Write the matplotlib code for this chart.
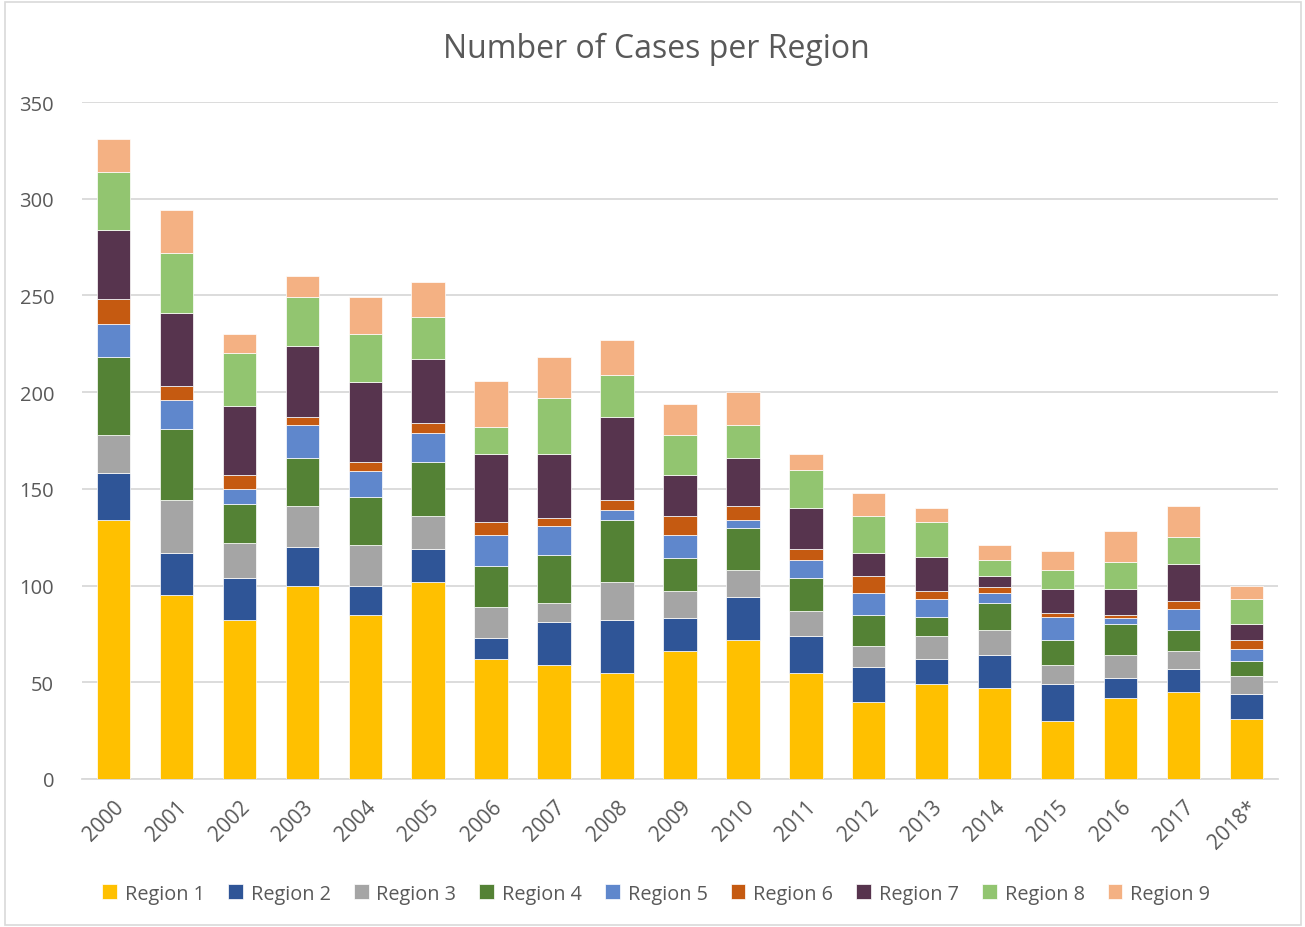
import matplotlib.pyplot as plt
import numpy as np
from matplotlib.patches import Rectangle

# Years on the x axis
years = ['2000', '2001', '2002', '2003', '2004', '2005', '2006', '2007', '2008', '2009',
         '2010', '2011', '2012', '2013', '2014', '2015', '2016', '2017', '2018*']

# Cases per region, one list per region
region1 = [134, 95, 82, 100, 85, 102, 62, 59, 55, 66, 72, 55, 40, 49, 47, 30, 42, 45, 31]
region2 = [24, 22, 22, 20, 15, 17, 11, 22, 27, 17, 22, 19, 18, 13, 17, 19, 10, 12, 13]
region3 = [20, 27, 18, 21, 21, 17, 16, 10, 20, 14, 14, 13, 11, 12, 13, 10, 12, 9, 9]
region4 = [40, 37, 20, 25, 25, 28, 21, 25, 32, 17, 22, 17, 16, 10, 14, 13, 16, 11, 8]
region5 = [17, 15, 8, 17, 13, 15, 16, 15, 5, 12, 4, 9, 11, 9, 5, 12, 3, 11, 6]
region6 = [13, 7, 7, 4, 5, 5, 7, 4, 5, 10, 7, 6, 9, 4, 3, 2, 2, 4, 5]
region7 = [36, 38, 36, 37, 41, 33, 35, 33, 43, 21, 25, 21, 12, 18, 6, 12, 13, 19, 8]
region8 = [30, 31, 27, 25, 25, 22, 14, 29, 22, 21, 17, 20, 19, 18, 8, 10, 14, 14, 13]
region9 = [17, 22, 10, 11, 19, 18, 24, 21, 18, 16, 17, 8, 12, 7, 8, 10, 16, 16, 7]

series = [region1, region2, region3, region4, region5, region6, region7, region8, region9]
labels = ['Region %d' % (i + 1) for i in range(9)]
colors = ['#FFC000', '#2F5597', '#A5A5A5', '#548235', '#5F87CC',
          '#C55A11', '#57344E', '#92C570', '#F4B183']

plt.rcParams['font.family'] = ['Open Sans', 'DejaVu Sans']
text_color = '#595959'

fig = plt.figure(figsize=(13.05, 9.28), dpi=100)
ax = fig.add_axes([0.0628, 0.1595, 0.9165, 0.7295])

x = np.arange(len(years))
bottom = np.zeros(len(years))
for vals, lab, col in zip(series, labels, colors):
    ax.bar(x, vals, width=0.53, bottom=bottom, color=col, label=lab,
           edgecolor='white', linewidth=0.5, zorder=3)
    bottom += np.array(vals)

ax.set_xlim(-0.5, len(years) - 0.5)
ax.set_ylim(0, 350)
ax.set_yticks(range(0, 351, 50))
ax.yaxis.grid(True, color='#D9D9D9', linewidth=1.3, zorder=0)
ax.set_axisbelow(True)
for s in ['top', 'right', 'left']:
    ax.spines[s].set_visible(False)
ax.spines['bottom'].set_color('#D9D9D9')
ax.spines['bottom'].set_linewidth(1.3)
ax.tick_params(axis='x', length=0, colors=text_color, labelsize=15, pad=12)
ax.tick_params(axis='y', length=0, colors=text_color, labelsize=14.5, pad=20)
ax.set_xticks(x)
ax.set_xticklabels(years, rotation=45, ha='right', rotation_mode='anchor')

fig.text(0.503, 0.947, 'Number of Cases per Region', ha='center', va='center',
         fontsize=23, color=text_color)

fig.legend(loc='center', bbox_to_anchor=(0.503, 0.036), ncol=9, frameon=False,
           fontsize=14.3, labelcolor=text_color, handlelength=0.75, handleheight=0.75,
           handletextpad=0.4, columnspacing=1.15)

# light frame around the whole chart
fig.patches.append(Rectangle((0.004, 0.002), 0.993, 0.995, transform=fig.transFigure,
                             fill=False, edgecolor='#D9D9D9', linewidth=1.2))

plt.savefig('out.png', dpi=100)
plt.close()
